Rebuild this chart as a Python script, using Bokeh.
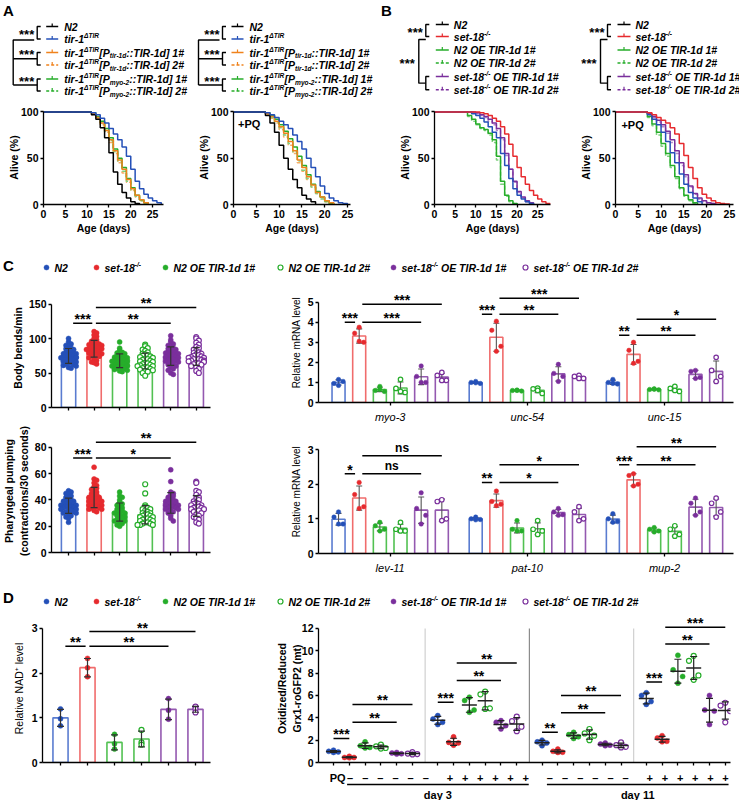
import re
import numpy as np
from bokeh.plotting import figure
from bokeh.layouts import column, row
from bokeh.models import Range1d, Label, ColumnDataSource, CustomJSTickFormatter
from bokeh.core.properties import value
from bokeh.embed import file_html
from bokeh.resources import INLINE

FONT = "Liberation Sans"

BLUE = "#2450b8"
RED = "#e62a2e"
GREEN = "#26ad2a"
PURPLE = "#7a2f9c"
ORANGE = "#f0821c"
ORANGE_L = "#f6ad66"
GREEN_L = "#7fd07f"
PURPLE_L = "#b489cc"
DOT = [BLUE, RED, GREEN, GREEN, PURPLE, PURPLE]
BAR_LINE = ["#5a7cd0", "#f06c6c", "#52c152", "#52c152", "#9459b0", "#9459b0"]
HOLLOW = [False, False, False, True, False, True]

# ---------------- lifespan curves (day, % alive) ----------------
A_N2_DAYS = [0, 10, 11, 12, 13, 14, 15, 16, 17, 18, 19, 20, 21, 22]
A_N2_ALIVE = [100, 100, 97, 92, 83, 72, 56, 35, 22, 13, 7, 3, 1, 0]
A_TIR_DAYS = [0, 10, 11, 12, 13, 14, 15, 16, 17, 18, 19, 20, 21, 22, 23, 24, 25, 26, 27]
A_TIR_ALIVE = [100, 100, 99, 97, 93, 88, 82, 76, 70, 62, 52, 38, 25, 17, 11, 7, 4, 2, 0]
A_RES_DAYS = [0, 10, 11, 12, 13, 14, 15, 16, 17, 18, 19, 20, 21, 22, 23, 24]
A_TIR1D_1 = [100, 100, 98, 94, 88, 80, 70, 58, 48, 38, 27, 17, 10, 5, 2, 0]
A_TIR1D_2 = [100, 100, 97, 93, 86, 78, 67, 55, 45, 34, 24, 15, 8, 4, 1, 0]
A_MYO2_1 = [100, 100, 99, 95, 90, 82, 72, 60, 50, 40, 28, 18, 10, 5, 2, 0]
A_MYO2_2 = [100, 100, 98, 94, 88, 79, 69, 57, 47, 36, 25, 16, 9, 4, 1, 0]

AP_N2_DAYS = [0, 6, 7, 8, 9, 10, 11, 12, 13, 14, 15, 16, 17, 18]
AP_N2_ALIVE = [100, 100, 96, 88, 78, 64, 50, 38, 27, 18, 10, 6, 3, 0]
AP_TIR_DAYS = [0, 6, 7, 8, 9, 10, 11, 12, 13, 14, 15, 16, 17, 18, 19, 20, 21, 22, 23, 24, 25]
AP_TIR_ALIVE = [100, 100, 99, 97, 94, 90, 86, 82, 75, 68, 60, 50, 40, 30, 20, 12, 7, 4, 2, 1, 0]
AP_RES_DAYS = [0, 6, 7, 8, 9, 10, 11, 12, 13, 14, 15, 16, 17, 18, 19, 20, 21, 22]
AP_TIR1D_1 = [100, 100, 98, 95, 90, 84, 77, 68, 58, 48, 40, 30, 21, 13, 8, 4, 2, 0]
AP_TIR1D_2 = [100, 100, 97, 93, 88, 81, 73, 64, 55, 45, 36, 27, 19, 12, 7, 3, 1, 0]
AP_MYO2_1 = [100, 100, 99, 96, 92, 86, 79, 71, 62, 52, 42, 32, 22, 14, 8, 4, 1, 0]
AP_MYO2_2 = [100, 100, 98, 94, 89, 83, 75, 66, 57, 47, 37, 28, 19, 12, 6, 3, 1, 0]

B_N2_DAYS = [0, 8, 9, 10, 11, 12, 13, 14, 15, 16, 17, 18, 19, 20, 21, 22, 23, 24]
B_N2_ALIVE = [100, 100, 98, 96, 93, 89, 84, 78, 72, 55, 42, 28, 17, 10, 6, 3, 1, 0]
B_S18_DAYS = [0, 9, 10, 11, 12, 13, 14, 15, 16, 17, 18, 19, 20, 21, 22, 23, 24, 25, 26, 27, 28]
B_S18_ALIVE = [100, 100, 100, 99, 98, 96, 93, 90, 84, 76, 65, 52, 40, 30, 22, 15, 10, 6, 3, 1, 0]
B_OE_DAYS = [0, 7, 8, 9, 10, 11, 12, 13, 14, 15, 16, 17, 18, 19, 20]
B_OE_1 = [100, 100, 96, 92, 87, 83, 81, 77, 70, 52, 25, 10, 4, 1, 0]
B_OE_2 = [100, 100, 95, 90, 86, 82, 80, 75, 67, 48, 22, 9, 3, 1, 0]
B_SOE_DAYS = [0, 9, 10, 11, 12, 13, 14, 15, 16, 17, 18, 19, 20, 21, 22, 23, 24]
B_SOE_1 = [100, 100, 99, 97, 95, 92, 88, 82, 72, 55, 38, 25, 14, 8, 4, 2, 0]
B_SOE_2 = [100, 100, 98, 96, 94, 90, 86, 80, 70, 53, 38, 24, 13, 7, 3, 1, 0]

BP_N2_DAYS = [0, 6, 7, 8, 9, 10, 11, 12, 13, 14, 15, 16, 17, 18, 19]
BP_N2_ALIVE = [100, 100, 97, 92, 86, 78, 68, 56, 45, 33, 22, 13, 7, 3, 0]
BP_S18_DAYS = [0, 6, 7, 8, 9, 10, 11, 12, 13, 14, 15, 16, 17, 18, 19, 20, 21, 22, 23, 24, 25]
BP_S18_ALIVE = [100, 100, 99, 97, 94, 91, 88, 83, 76, 66, 53, 40, 28, 18, 11, 7, 4, 2, 1, 0.5, 0]
BP_OE_DAYS = [0, 6, 7, 8, 9, 10, 11, 12, 13, 14, 15, 16, 17, 18]
BP_OE_1 = [100, 100, 95, 87, 78, 66, 55, 42, 30, 18, 10, 5, 2, 0]
BP_OE_2 = [100, 100, 94, 85, 75, 63, 52, 40, 28, 17, 9, 4, 1, 0]
BP_SOE_DAYS = [0, 6, 7, 8, 9, 10, 11, 12, 13, 14, 15, 16, 17, 18, 19, 20, 21, 22]
BP_SOE_1 = [100, 100, 98, 95, 91, 86, 79, 70, 58, 45, 32, 20, 12, 7, 4, 2, 1, 0]
BP_SOE_2 = [100, 100, 97, 94, 89, 84, 77, 67, 55, 42, 30, 19, 11, 6, 3, 1, 1, 0]

# ---------------- panel C: body bends and pharyngeal pumping ----------------
BENDS = [
    [100, 95, 92, 90, 88, 86, 85, 84, 82, 81, 80, 79, 78, 78, 77, 76, 75, 75, 74, 73, 72, 72, 71, 70, 69, 68, 67, 66, 65, 64, 63, 62, 61, 60, 58, 57],
    [110, 108, 105, 103, 100, 98, 96, 95, 94, 93, 92, 91, 90, 89, 88, 87, 86, 85, 85, 84, 83, 82, 81, 80, 79, 78, 77, 76, 75, 74, 72, 70, 68, 66, 65, 63],
    [95, 86, 82, 80, 79, 78, 77, 76, 75, 74, 73, 72, 71, 70, 70, 69, 68, 68, 67, 66, 65, 65, 64, 63, 62, 61, 60, 60, 59, 58, 57, 56, 55, 54, 53, 52],
    [91, 89, 86, 84, 82, 80, 78, 77, 76, 75, 74, 73, 72, 71, 70, 69, 68, 67, 66, 65, 64, 63, 62, 61, 60, 60, 59, 58, 57, 56, 55, 54, 53, 52, 50, 46],
    [104, 98, 95, 92, 90, 88, 86, 85, 84, 83, 82, 81, 80, 79, 78, 77, 76, 75, 74, 73, 72, 71, 70, 69, 68, 67, 66, 65, 64, 62, 60, 58, 56, 54, 50, 48],
    [102, 100, 97, 94, 91, 88, 86, 84, 82, 80, 79, 78, 77, 76, 75, 74, 73, 72, 72, 71, 70, 70, 69, 68, 68, 67, 66, 65, 64, 63, 62, 60, 58, 56, 53, 50],
]
PUMPING = [
    [47, 46, 45, 44, 43, 42, 41, 40, 40, 39, 39, 38, 38, 37, 37, 36, 36, 36, 35, 35, 35, 34, 34, 33, 33, 32, 32, 31, 31, 30, 30, 29, 28, 27, 26, 23],
    [65, 56, 55, 53, 51, 50, 49, 48, 47, 46, 45, 44, 44, 43, 42, 42, 41, 41, 40, 40, 39, 39, 38, 38, 37, 37, 36, 36, 35, 35, 34, 34, 33, 33, 32, 31],
    [46, 43, 42, 40, 38, 37, 36, 35, 34, 33, 32, 32, 31, 30, 30, 29, 28, 28, 27, 26, 26, 25, 24, 24, 23, 22, 21, 20],
    [52, 45, 36, 35, 34, 33, 33, 32, 31, 30, 30, 29, 29, 28, 28, 27, 27, 26, 26, 25, 25, 24, 24, 23, 23, 22, 22, 21, 21, 21],
    [63, 54, 46, 45, 44, 43, 42, 41, 40, 40, 39, 39, 38, 38, 37, 37, 36, 36, 35, 35, 34, 34, 33, 33, 32, 31, 30, 28, 26, 24],
    [54, 53, 47, 46, 44, 42, 41, 40, 39, 38, 37, 37, 36, 36, 35, 35, 34, 34, 33, 33, 32, 32, 31, 30, 29, 28, 27, 26, 25, 23, 22],
]
BENDS_SIG = [(0, 1, 122, "***"), (1, 4, 122, "**"), (1, 5, 145, "**")]
PUMPING_SIG = [(0, 1, 72, "***"), (1, 4, 72, "*"), (1, 5, 84, "**")]

# ---------------- panel C: relative mRNA levels (4 replicates) ----------------
GENES_TOP = ["myo-3", "unc-54", "unc-15"]
MRNA_TOP = [
    [[0.85, 0.95, 1.05, 1.15], [3.75, 3.45, 3.0, 3.05], [0.8, 0.6, 0.55, 0.65],
     [1.15, 0.7, 0.5, 0.55], [1.82, 1.3, 1.0, 1.0], [1.5, 1.35, 1.1, 1.1]],
    [[1.05, 1.0, 0.95, 0.98], [4.05, 3.6, 2.8, 2.55], [0.62, 0.6, 0.57, 0.6],
     [0.72, 0.68, 0.45, 0.6], [1.9, 1.45, 1.3, 1.05], [1.35, 1.3, 1.2, 1.2]],
    [[1.15, 1.0, 0.92, 0.95], [3.0, 2.6, 2.05, 1.95], [0.68, 0.65, 0.63, 0.66],
     [0.8, 0.7, 0.55, 0.6], [1.6, 1.55, 1.25, 1.2], [2.25, 1.6, 1.3, 1.05]],
]
MRNA_TOP_SIG = [
    [(0, 1, 4.0, "***"), (1, 4, 4.0, "***"), (1, 5, 4.9, "***")],
    [(0, 1, 4.4, "***"), (1, 4, 4.4, "**"), (1, 5, 5.2, "***")],
    [(0, 1, 3.35, "**"), (1, 4, 3.35, "**"), (1, 5, 4.15, "*")],
]
GENES_BOT = ["lev-11", "pat-10", "mup-2"]
MRNA_BOT = [
    [[1.2, 1.05, 0.85, 0.85], [2.05, 1.7, 1.35, 1.3], [0.9, 0.8, 0.7, 0.65],
     [0.9, 0.7, 0.65, 0.65], [1.75, 1.3, 1.1, 0.85], [1.55, 1.5, 1.0, 0.95]],
    [[1.05, 1.0, 0.98, 0.97], [1.8, 1.5, 1.42, 1.38], [0.95, 0.7, 0.65, 0.65],
     [0.95, 0.7, 0.65, 0.55], [1.3, 1.2, 1.12, 1.1], [1.35, 1.2, 1.0, 0.95]],
    [[1.15, 1.0, 0.92, 0.9], [2.3, 2.25, 2.0, 1.95], [0.75, 0.7, 0.65, 0.62],
     [0.8, 0.7, 0.55, 0.5], [1.6, 1.45, 1.2, 1.1], [1.6, 1.45, 1.2, 1.05]],
]
MRNA_BOT_SIG = [
    [(0, 1, 2.3, "*"), (1, 4, 2.3, "ns"), (1, 5, 2.82, "ns")],
    [(0, 1, 2.05, "**"), (1, 4, 2.05, "*"), (1, 5, 2.56, "*")],
    [(0, 1, 2.56, "***"), (1, 4, 2.56, "**"), (1, 5, 3.08, "**")],
]

# ---------------- panel D ----------------
NAD = [[1.2, 0.98, 0.82], [2.33, 2.12, 1.92], [0.63, 0.42, 0.3],
       [0.73, 0.45, 0.4], [1.43, 1.17, 0.97], [1.25, 1.2, 1.12]]
NAD_SIG = [(0, 1, 2.6, "**"), (1, 4, 2.6, "**"), (1, 5, 2.93, "**")]

ROGFP_PQ = ["–", "+", "–", "+"]
ROGFP_DAY = ["day 3", "day 11"]
ROGFP = [
    [[1.1, 1.0, 0.95, 0.9], [0.55, 0.45, 0.45, 0.42], [1.85, 1.5, 1.35, 1.3],
     [1.6, 1.45, 1.3, 1.25], [0.9, 0.85, 0.78, 0.75], [0.92, 0.8, 0.75, 0.72]],
    [[4.2, 3.9, 3.6, 3.4], [2.3, 1.8, 1.75, 1.55], [5.85, 5.55, 4.7, 4.5],
     [6.35, 6.1, 4.85, 4.8], [3.75, 3.6, 3.3, 3.0], [4.1, 3.7, 3.2, 2.8]],
    [[2.0, 1.85, 1.75, 1.5], [1.2, 1.0, 0.92, 0.9], [2.7, 2.5, 2.3, 2.15],
     [3.0, 2.6, 2.4, 2.0], [1.75, 1.65, 1.55, 1.5], [1.8, 1.55, 1.4, 1.35]],
    [[6.25, 6.0, 5.45, 5.2], [2.4, 2.2, 1.9, 1.85], [9.6, 8.3, 7.7, 7.1],
     [9.55, 9.1, 7.8, 7.4], [6.0, 4.7, 4.6, 3.4], [5.35, 5.1, 4.6, 3.6]],
]
ROGFP_SIG = [
    [(0, 1, 2.15, "***"), (1, 4, 3.6, "**"), (1, 5, 5.2, "**")],
    [(0, 1, 5.4, "***"), (1, 4, 7.35, "**"), (1, 5, 8.9, "**")],
    [(0, 1, 2.7, "**"), (1, 4, 4.45, "**"), (1, 5, 6.0, "**")],
    [(0, 1, 7.2, "***"), (1, 4, 10.6, "**"), (1, 5, 12.1, "***")],
]

STRAIN_LABELS = ["N2", "set-18^{-/-}", "N2 OE TIR-1d 1#", "N2 OE TIR-1d 2#",
                 "set-18^{-/-} OE TIR-1d 1#", "set-18^{-/-} OE TIR-1d 2#"]
TREE_A_LABELS = ["N2", "tir-1^{ΔTIR}",
                 "tir-1^{ΔTIR}[P_{tir-1d}::TIR-1d] 1#", "tir-1^{ΔTIR}[P_{tir-1d}::TIR-1d] 2#",
                 "tir-1^{ΔTIR}[P_{myo-2}::TIR-1d] 1#", "tir-1^{ΔTIR}[P_{myo-2}::TIR-1d] 2#"]
TREE_B_LABELS = ["N2", "set-18^{-/-}", "N2 OE TIR-1d 1#", "N2 OE TIR-1d 2#",
                 "set-18^{-/-} OE TIR-1d 1#", "set-18^{-/-} OE TIR-1d 2#"]

# ---------------- helpers ----------------
# Arial/Liberation bold advance widths (1/1000 em), used to chain rich-text pieces
_W = {' ': 278, '#': 556, '(': 333, ')': 333, '+': 584, '-': 333, '/': 278, ':': 333,
      '[': 333, ']': 333, 'Δ': 700}
_W.update({d: 556 for d in "0123456789"})
_W.update(dict(zip("ABCDEFGHIJKLMNOPQRSTUVWXYZ",
                   [722, 722, 722, 722, 667, 611, 778, 722, 278, 556, 722, 611, 833, 722, 778,
                    667, 778, 722, 667, 611, 722, 667, 944, 667, 667, 611])))
_W.update(dict(zip("abcdefghijklmnopqrstuvwxyz",
                   [556, 611, 556, 611, 556, 333, 611, 611, 278, 278, 556, 278, 889, 611, 611,
                    611, 611, 389, 556, 333, 611, 556, 778, 556, 556, 500])))


def text_width(s, size):
    return sum(_W.get(c, 556) for c in s) * size / 1000.0


def parse_rich(s):
    parts = []
    for m in re.finditer(r"\^\{([^}]*)\}|_\{([^}]*)\}|([^\^_]+)", s):
        if m.group(1) is not None:
            parts.append((m.group(1), "sup"))
        elif m.group(2) is not None:
            parts.append((m.group(2), "sub"))
        else:
            parts.append((m.group(3), "n"))
    return parts


def rich_pieces(s, x, y, size, small):
    xs, ys, ts, ss = [], [], [], []
    cx = x
    for txt, kind in parse_rich(s):
        fs = size if kind == "n" else small
        dy = {"n": 0.0, "sup": -0.33 * size, "sub": 0.32 * size}[kind]
        # leading blanks are dropped by SVG text, so step over them here
        lead = len(txt) - len(txt.lstrip(" "))
        cx += text_width(" " * lead, fs)
        txt = txt.lstrip(" ")
        xs.append(cx); ys.append(y + dy); ts.append(txt); ss.append(f"{fs}px")
        cx += text_width(txt, fs)
    return xs, ys, ts, ss


def draw_rich(p, labels, xs0, ys0, size=10.5, small=6.6, style="bold italic"):
    X, Y, T, S = [], [], [], []
    for lab, x, y in zip(labels, xs0, ys0):
        a, b, c, d = rich_pieces(lab, x, y, size, small)
        X += a; Y += b; T += c; S += d
    src = ColumnDataSource(dict(x=X, y=Y, t=T, s=S))
    p.text(x="x", y="y", text="t", text_font_size="s", source=src,
           text_font=value(FONT), text_font_style=style, text_color="black",
           text_align="left", text_baseline="middle")


def base_fig(w, h, xr, yr, l, r, t, b, axes=True):
    kw = dict(width=w, height=h, x_range=Range1d(*xr), y_range=Range1d(*yr),
              output_backend="svg", toolbar_location=None,
              min_border_left=l, min_border_right=r, min_border_top=t, min_border_bottom=b)
    if not axes:
        kw.update(x_axis_type=None, y_axis_type=None)
    p = figure(**kw)
    p.grid.visible = False
    p.outline_line_color = None
    p.background_fill_color = "white"
    p.border_fill_color = "white"
    return p


def style_axes(p, tick_size="10.5px", tick_style="bold", label_size="10.5px", label_style="bold"):
    for ax in p.axis:
        ax.axis_line_width = 1.3
        ax.axis_line_color = "black"
        ax.major_tick_line_width = 1.3
        ax.major_tick_line_color = "black"
        ax.major_tick_out = 3
        ax.major_tick_in = 0
        ax.minor_tick_line_color = None
        ax.major_label_text_font = FONT
        ax.major_label_text_font_size = tick_size
        ax.major_label_text_font_style = tick_style
        ax.major_label_text_color = "black"
        ax.major_label_standoff = 2
        ax.axis_label_text_font = FONT
        ax.axis_label_text_font_size = label_size
        ax.axis_label_text_font_style = label_style
        ax.axis_label_text_color = "black"


def blank_x_labels(p):
    p.xaxis.formatter = CustomJSTickFormatter(code="return ''")
    p.xaxis.major_label_text_font_size = "0px"
    p.xaxis.major_label_standoff = 0


def sig_mark(p, x0, x1, y, label, star_size="14px"):
    p.segment(x0=[x0], y0=[y], x1=[x1], y1=[y], line_color="black", line_width=1.5)
    is_ns = label == "ns"
    p.text(x=[(x0 + x1) / 2], y=[y], text=[label], text_font=value(FONT),
           text_font_style="bold", text_font_size="12px" if is_ns else star_size,
           text_align="center", text_baseline="middle", y_offset=-8 if is_ns else -4,
           text_color="black")


def sig_set(p, xpos, sigs, a0, a1, b0):
    for i, j, y, lab in sigs:
        if i == 0:
            sig_mark(p, xpos[i] + a0, xpos[j] - a1, y, lab)
        else:
            sig_mark(p, xpos[i] + b0, xpos[j], y, lab)


def swarm(vals, bin_size, step, maxoff):
    vals = np.asarray(vals, dtype=float)
    offs = np.zeros(len(vals))
    counts = {}
    for idx in np.argsort(-vals, kind="stable"):
        b = int(np.floor(vals[idx] / bin_size))
        k = counts.get(b, 0)
        counts[b] = k + 1
        off = ((k + 1) // 2) * step * (1 if k % 2 else -1)
        offs[idx] = float(np.clip(off, -maxoff, maxoff))
    return offs


def dots(p, x, y, i, size=5):
    if HOLLOW[i]:
        p.scatter(x=x, y=y, marker="circle", size=size, fill_color="white",
                  line_color=DOT[i], line_width=1.2)
    else:
        p.scatter(x=x, y=y, marker="circle", size=size, fill_color=DOT[i],
                  line_color=DOT[i], line_width=0.5)


def error_bars(p, x, m, sd, color="#333333", cap=7, lw=1.2):
    x = np.asarray(x, dtype=float)
    m = np.asarray(m, dtype=float)
    sd = np.asarray(sd, dtype=float)
    p.segment(x0=x, y0=m - sd, x1=x, y1=m + sd, line_color=color, line_width=lw)
    p.scatter(x=x, y=m + sd, marker="dash", size=cap, line_color=color, line_width=lw)
    p.scatter(x=x, y=m - sd, marker="dash", size=cap, line_color=color, line_width=lw)


# ---------------- header: comparison trees for A and B ----------------
hdr = base_fig(739, 100, (0, 739), (100, 0), 0, 0, 0, 0, axes=False)
A_ROW_Y = [26, 38.5, 52, 64.5, 78.5, 90.5]
B_ROW_Y = [24, 36, 49.5, 62.5, 76, 89.3]
A_COLORS = ["black", BLUE, ORANGE, ORANGE, GREEN, GREEN]
B_COLORS = ["black", RED, GREEN, GREEN, PURPLE, PURPLE]
DASHED = [False, False, False, True, False, True]


def legend_samples(p, x0, x1, ys, colors):
    for y, c, dsh in zip(ys, colors, DASHED):
        p.segment(x0=[x0], y0=[y], x1=[x1], y1=[y], line_color=c, line_width=1.4,
                  line_dash="3 2" if dsh else "solid")
        xm = (x0 + x1) / 2
        p.segment(x0=[xm], y0=[y], x1=[xm], y1=[y - 3], line_color=c, line_width=1.2)


def bracket(p, x, ya, yb):
    p.multi_line(xs=[[x + 3.5, x, x, x + 3.5]], ys=[[ya, ya, yb, yb]],
                 line_color="black", line_width=1.4)


def stars(p, x, y, txt="***"):
    p.text(x=[x], y=[y], text=[txt], text_font=value(FONT), text_font_style="bold",
           text_font_size="13px", text_align="right", text_baseline="middle",
           y_offset=2, text_color="black")


def tree_a(p, T, ys):
    B = T + 24
    bracket(p, B, ys[0], ys[1])
    stars(p, B - 3, (ys[0] + ys[1]) / 2)
    top = ys[1] + 1.0
    m1 = (ys[2] + ys[3]) / 2
    m2 = (ys[4] + ys[5]) / 2
    p.multi_line(xs=[[B - 3, T, T], [T, B], [T, B]], ys=[[top, top, m2], [m1, m1], [m2, m2]],
                 line_color="black", line_width=1.4)
    bracket(p, B, ys[2], ys[3])
    bracket(p, B, ys[4], ys[5])
    stars(p, B - 3, ys[2])
    stars(p, B - 3, ys[4])
    legend_samples(p, T + 33, T + 45, ys, A_COLORS)
    draw_rich(p, TREE_A_LABELS, [T + 51] * 6, ys)


def tree_b(p, T, ys):
    B = T + 7
    bracket(p, B, ys[0], ys[1])
    stars(p, B - 3, (ys[0] + ys[1]) / 2)
    top = ys[1] + 3
    m = (ys[4] + ys[5]) / 2
    p.multi_line(xs=[[B, T, T, B]], ys=[[top, top, m, m]], line_color="black", line_width=1.4)
    bracket(p, B, ys[4], ys[5])
    stars(p, T - 4, (top + m) / 2)
    legend_samples(p, B + 10, B + 23, ys, B_COLORS)
    draw_rich(p, TREE_B_LABELS, [B + 28] * 6, ys)


tree_a(hdr, 12.7, A_ROW_Y)
tree_a(hdr, 198, A_ROW_Y)
tree_b(hdr, 418.3, B_ROW_Y)
tree_b(hdr, 600, B_ROW_Y)
hdr.text(x=[8, 386], y=[10, 10], text=["A", "B"], text_font=value(FONT), text_font_style="bold",
         text_font_size="15px", text_align="center", text_baseline="middle", text_color="black")


# ---------------- lifespan plots ----------------
def survival_fig(w, xmax, left, right, curves, pq=None, title_standoff=-2):
    p = base_fig(w, 140, (0, xmax), (0, 101.5), left, right, 10, 36)
    for d, s, c, dash in curves:
        p.step(x=d, y=s, mode="after", line_color=c, line_width=1.5, line_dash=dash)
    p.xaxis.ticker = [0, 5, 10, 15, 20, 25]
    p.yaxis.ticker = [0, 50, 100]
    p.yaxis.bounds = (0, 100)
    p.xaxis.axis_label = "Age (days)"
    p.yaxis.axis_label = "Alive (%)"
    style_axes(p)
    p.xaxis.axis_label_standoff = 1
    p.yaxis.axis_label_standoff = title_standoff
    if pq is not None:
        p.add_layout(Label(x=pq[0], y=pq[1], text="+PQ", text_font=FONT, text_font_style="bold",
                           text_font_size="11px", text_baseline="middle", text_color="black"))
    return p


DASH = "4 2"
sa = survival_fig(185, 27.5, 43, 22, [
    (A_RES_DAYS, A_TIR1D_2, ORANGE_L, DASH), (A_RES_DAYS, A_MYO2_2, GREEN_L, DASH),
    (A_RES_DAYS, A_MYO2_1, GREEN, "solid"), (A_RES_DAYS, A_TIR1D_1, ORANGE, "solid"),
    (A_N2_DAYS, A_N2_ALIVE, "black", "solid"), (A_TIR_DAYS, A_TIR_ALIVE, BLUE, "solid")])
sap = survival_fig(185, 25.66, 48, 20, [
    (AP_RES_DAYS, AP_TIR1D_2, ORANGE_L, DASH), (AP_RES_DAYS, AP_MYO2_2, GREEN_L, DASH),
    (AP_RES_DAYS, AP_MYO2_1, GREEN, "solid"), (AP_RES_DAYS, AP_TIR1D_1, ORANGE, "solid"),
    (AP_N2_DAYS, AP_N2_ALIVE, "black", "solid"), (AP_TIR_DAYS, AP_TIR_ALIVE, BLUE, "solid")],
    pq=(1.0, 87))
sb = survival_fig(185, 28.1, 64, 5, [
    (B_OE_DAYS, B_OE_2, GREEN_L, DASH), (B_SOE_DAYS, B_SOE_2, PURPLE_L, DASH),
    (B_OE_DAYS, B_OE_1, GREEN, "solid"), (B_SOE_DAYS, B_SOE_1, PURPLE, "solid"),
    (B_N2_DAYS, B_N2_ALIVE, BLUE, "solid"), (B_S18_DAYS, B_S18_ALIVE, RED, "solid")])
sbp = survival_fig(184, 25.9, 60, 6, [
    (BP_OE_DAYS, BP_OE_2, GREEN_L, DASH), (BP_SOE_DAYS, BP_SOE_2, PURPLE_L, DASH),
    (BP_OE_DAYS, BP_OE_1, GREEN, "solid"), (BP_SOE_DAYS, BP_SOE_1, PURPLE, "solid"),
    (BP_N2_DAYS, BP_N2_ALIVE, BLUE, "solid"), (BP_S18_DAYS, BP_S18_ALIVE, RED, "solid")],
    pq=(1.3, 86))


# ---------------- strain legend rows ----------------
def legend_row(h, yc, letter, letter_y):
    p = base_fig(739, h, (0, 739), (h, 0), 0, 0, 0, 0, axes=False)
    mx = [46, 96, 165, 280, 393, 525]
    for i, x in enumerate(mx):
        dots(p, [x], [yc], i, size=5)
    draw_rich(p, STRAIN_LABELS, [x + 8 for x in mx], [yc] * 6, size=10.5, small=6.6)
    p.text(x=[8], y=[letter_y], text=[letter], text_font=value(FONT), text_font_style="bold",
           text_font_size="15px", text_align="center", text_baseline="middle", text_color="black")
    return p


legC = legend_row(40, 27, "C", 25)
legD = legend_row(32, 21, "D", 17)


# ---------------- dot + bar plots (C left, D left) ----------------
def dot_bar_fig(h, ymax, top, bottom, groups, yticks, sigs, ylabel, bin_size, label_standoff,
                label_style="bold", swarm_pts=True):
    p = base_fig(250, h, (-0.667, 5.556), (0, ymax), 42, 40, top, bottom)
    xs = np.arange(6)
    means = [float(np.mean(g)) for g in groups]
    sds = [float(np.std(g, ddof=1)) for g in groups]
    p.vbar(x=xs, top=means, width=0.56, bottom=0, fill_color="white",
           line_color=BAR_LINE, line_width=1.6)
    for i, g in enumerate(groups):
        offs = swarm(g, bin_size, 0.1, 0.3) if swarm_pts else np.zeros(len(g))
        dots(p, i + offs, g, i, size=5)
    error_bars(p, xs, means, sds)
    p.xaxis.ticker = list(range(6))
    blank_x_labels(p)
    p.yaxis.ticker = yticks
    p.yaxis.bounds = (0, yticks[-1])
    p.yaxis.axis_label = ylabel
    style_axes(p, label_style=label_style)
    p.xaxis.major_label_text_font_size = "0px"
    p.yaxis.axis_label_standoff = label_standoff
    sig_set(p, xs, sigs, 0.18, 0.07, 0.07)
    return p


cb = dot_bar_fig(145, 172.5, 8, 18, BENDS, [0, 50, 100, 150], BENDS_SIG, "Body bends/min", 6, 2)
cp = dot_bar_fig(155, 93.7, 4, 28, PUMPING, [0, 20, 40, 60, 80], PUMPING_SIG,
                 "Pharyngeal pumping\n(contractions/30 seconds)", 3, 2)
dn = dot_bar_fig(188, 3.313, 2, 38, NAD, [0, 1, 2, 3], NAD_SIG, "Relative NAD⁺ level", 0.1, 4,
                 label_style="normal", swarm_pts=False)

# ---------------- grouped qPCR bars (C right) ----------------
GAP = 6.64
PT4 = [0.0, -0.22, 0.22, 0.0]


def mrna_fig(h, ymax, top, bottom, data, genes, sigs, yticks):
    p = base_fig(489, h, (-3.47, 16.62), (0, ymax), 68, 6, top, bottom)
    for g, gene_data in enumerate(data):
        xs = [g * GAP + i - 2.5 for i in range(6)]
        means = [float(np.mean(v)) for v in gene_data]
        sds = [float(np.std(v, ddof=1)) for v in gene_data]
        p.vbar(x=xs, top=means, width=0.63, bottom=0, fill_color="white",
               line_color=BAR_LINE, line_width=1.6)
        error_bars(p, xs, means, sds, color="#555555", cap=6, lw=1.1)
        for i, v in enumerate(gene_data):
            dots(p, [xs[i] + o for o in PT4[:len(v)]], v, i, size=4.5)
        sig_set(p, xs, sigs[g], 0.3, 0.2, 0.15)
    p.xaxis.ticker = [g * GAP for g in range(len(genes))]
    p.xaxis.formatter = CustomJSTickFormatter(args=dict(names=genes),
                                              code="return names[index] || ''")
    p.yaxis.ticker = yticks
    p.yaxis.bounds = (0, yticks[-1])
    p.yaxis.axis_label = "Relative mRNA level"
    style_axes(p, label_style="normal", label_size="10px")
    p.xaxis.major_label_text_font_style = "italic"
    p.xaxis.major_label_text_font_size = "11px"
    p.xaxis.major_label_standoff = 5
    p.yaxis.axis_label_standoff = 3
    return p


crt = mrna_fig(145, 5.98, 2, 18, MRNA_TOP, GENES_TOP, MRNA_TOP_SIG, [0, 1, 2, 3, 4, 5])
crb = mrna_fig(155, 3.577, 4, 27, MRNA_BOT, GENES_BOT, MRNA_BOT_SIG, [0, 1, 2, 3])

# ---------------- roGFP scatter (D right) ----------------
DGAP = 6.6
PT4D = [0.0, -0.3, 0.3, 0.0]
dr = base_fig(489, 155, (-0.95, 25.13), (0, 13.25), 68, 9, 2, 5)
all_x = []
for g, grp in enumerate(ROGFP):
    xs = [g * DGAP + i for i in range(6)]
    all_x += xs
    means = [float(np.mean(v)) for v in grp]
    sds = [float(np.std(v, ddof=1)) for v in grp]
    for i, v in enumerate(grp):
        dots(dr, [xs[i] + o for o in PT4D], v, i, size=5)
    error_bars(dr, xs, means, sds, color="#222222", cap=7, lw=1.2)
    dr.scatter(x=xs, y=means, marker="dash", size=15, line_color="#222222", line_width=1.5)
    sig_set(dr, xs, ROGFP_SIG[g], 0.0, 0.0, 0.2)
sep_x = [g * DGAP + 5.8 for g in range(3)]
dr.segment(x0=sep_x, y0=[0] * 3, x1=sep_x, y1=[12] * 3,
           line_color=["#d0d0d0", "#8c8c8c", "#d0d0d0"], line_width=1.2)
dr.xaxis.ticker = all_x
blank_x_labels(dr)
dr.yaxis.ticker = [0, 2, 4, 6, 8, 10, 12]
dr.yaxis.bounds = (0, 12)
dr.yaxis.axis_label = "Oxidized/Reduced\nGrx1-roGFP2 (mt)"
style_axes(dr)
dr.xaxis.major_label_text_font_size = "0px"
dr.yaxis.axis_label_standoff = -4

# treatment / day key under the roGFP axis, on the same horizontal scale
ds = base_fig(489, 33, (-2.09, 25.13), (33, 0), 50, 9, 0, 0, axes=False)
for g in range(len(ROGFP)):
    xs = all_x[6 * g: 6 * g + 6]
    ds.text(x=xs, y=[10] * 6, text=[ROGFP_PQ[g]] * 6, text_font=value(FONT),
            text_font_style="bold", text_font_size="11px", text_align="center",
            text_baseline="middle", text_color="black")
for k, day in enumerate(ROGFP_DAY):
    xa = all_x[12 * k] - 0.2
    xb = all_x[12 * k + 11] + 0.2
    ds.segment(x0=[xa], y0=[17], x1=[xb], y1=[17], line_color="black", line_width=1.4)
    ds.text(x=[(xa + xb) / 2], y=[27], text=[day], text_font=value(FONT),
            text_font_style="bold", text_font_size="11px", text_align="center",
            text_baseline="middle", text_color="black")
ds.text(x=[-0.82], y=[10], text=["PQ"], text_font=value(FONT), text_font_style="bold",
        text_font_size="11px", text_align="center", text_baseline="middle", text_color="black")

layout = column(
    hdr,
    row(sa, sap, sb, sbp, spacing=0),
    legC,
    row(column(cb, cp, spacing=0), column(crt, crb, spacing=0), spacing=0),
    legD,
    row(dn, column(dr, ds, spacing=0), spacing=0),
    spacing=0,
)

open("out.html", "w").write(file_html(layout, INLINE))
